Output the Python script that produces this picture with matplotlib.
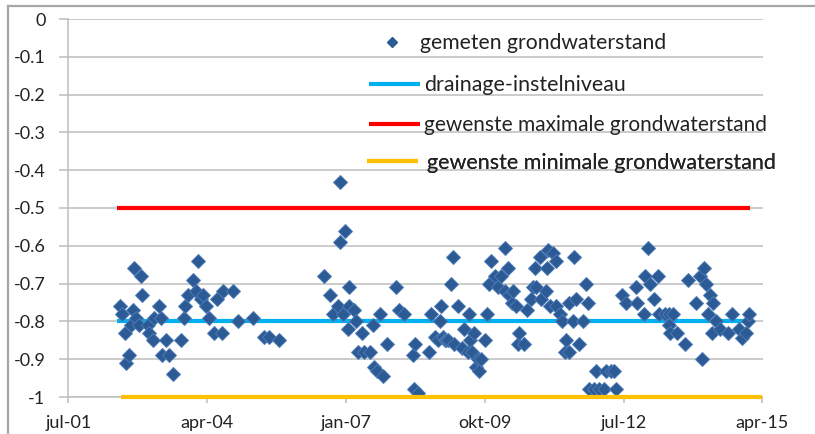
import numpy as np
import pandas as pd
import matplotlib
matplotlib.use("Agg")
import matplotlib.pyplot as plt
from matplotlib.lines import Line2D

plt.rcParams['font.family'] = ['Lato', 'DejaVu Sans']

# ---- data (measurement dates as decimal years, groundwater level in m) ----
meet_jaar = [
    2002.52, 2002.56, 2002.61, 2002.64, 2002.69, 2002.74, 2002.77, 2002.80, 2002.84, 2002.90,
    2002.94, 2002.96, 2003.07, 2003.10, 2003.17, 2003.20, 2003.30, 2003.33, 2003.36, 2003.43,
    2003.50, 2003.58, 2003.73, 2003.78, 2003.81, 2003.86, 2003.97, 2004.03, 2004.07, 2004.13,
    2004.16, 2004.22, 2004.28, 2004.38, 2004.45, 2004.54, 2004.57, 2004.75, 2004.85, 2005.15,
    2005.38, 2005.48, 2005.66,
    2006.57, 2006.68, 2006.73, 2006.83, 2006.87, 2006.88, 2006.93, 2006.97, 2007.03, 2007.06,
    2007.06, 2007.15, 2007.20, 2007.23, 2007.32, 2007.36, 2007.47, 2007.53, 2007.56, 2007.62,
    2007.67, 2007.74, 2007.80, 2007.98, 2008.04, 2008.15, 2008.32, 2008.35, 2008.37, 2008.42,
    2008.64, 2008.68, 2008.75, 2008.81, 2008.85, 2008.88, 2008.91, 2008.95, 2008.98, 2009.01,
    2009.08, 2009.11, 2009.14, 2009.21, 2009.30, 2009.34, 2009.41, 2009.43, 2009.45, 2009.50,
    2009.54, 2009.57, 2009.61, 2009.63, 2009.67, 2009.75, 2009.79, 2009.82, 2009.87, 2009.94,
    2010.00, 2010.07, 2010.14, 2010.14, 2010.20, 2010.23, 2010.29, 2010.31, 2010.37, 2010.40,
    2010.43, 2010.53, 2010.58, 2010.66, 2010.70, 2010.75, 2010.76, 2010.83, 2010.86, 2010.95,
    2010.97, 2010.99, 2011.03, 2011.09, 2011.15, 2011.16, 2011.24, 2011.28, 2011.34, 2011.36,
    2011.41, 2011.41, 2011.50, 2011.52, 2011.56, 2011.62, 2011.70, 2011.75, 2011.79, 2011.82,
    2011.90, 2011.95, 2012.00, 2012.10, 2012.15, 2012.25, 2012.31, 2012.35, 2012.47, 2012.55,
    2012.74, 2012.76, 2012.89, 2012.91, 2012.97, 2013.01, 2013.09, 2013.17, 2013.19, 2013.31,
    2013.39, 2013.39, 2013.42, 2013.48, 2013.55, 2013.72, 2013.77, 2013.92, 2014.01, 2014.05,
    2014.08, 2014.12, 2014.16, 2014.21, 2014.26, 2014.25, 2014.32, 2014.40, 2014.56, 2014.65,
    2014.78, 2014.84, 2014.92, 2014.96, 2014.98,
]
grondwaterstand = [
    -0.76, -0.78, -0.83, -0.91, -0.89, -0.81, -0.77, -0.66, -0.79, -0.81,
    -0.68, -0.73, -0.81, -0.83, -0.85, -0.79, -0.76, -0.79, -0.89, -0.85,
    -0.89, -0.94, -0.85, -0.79, -0.76, -0.73, -0.69, -0.72, -0.64, -0.74,
    -0.73, -0.76, -0.79, -0.83, -0.74, -0.83, -0.72, -0.72, -0.80, -0.79,
    -0.84, -0.84, -0.85,
    -0.68, -0.73, -0.78, -0.76, -0.43, -0.59, -0.78, -0.56, -0.82, -0.71,
    -0.76, -0.77, -0.80, -0.88, -0.83, -0.88, -0.88, -0.81, -0.92, -0.93,
    -0.78, -0.945, -0.86, -0.71, -0.77, -0.78, -0.89, -0.98, -0.86, -0.99,
    -0.88, -0.78, -0.84, -0.85, -0.80, -0.76, -0.84, -0.85, -0.85, -0.85,
    -0.70, -0.63, -0.86, -0.76, -0.87, -0.82, -0.88, -0.78, -0.85, -0.88,
    -0.83, -0.92, -0.90, -0.93, -0.90, -0.85, -0.78, -0.70, -0.64, -0.68,
    -0.71, -0.68, -0.605, -0.72, -0.66, -0.73, -0.75, -0.72, -0.76, -0.86,
    -0.83, -0.86, -0.77, -0.74, -0.71, -0.66, -0.71, -0.63, -0.74, -0.72,
    -0.66, -0.61, -0.76, -0.62, -0.64, -0.76, -0.78, -0.80, -0.88, -0.85,
    -0.88, -0.75, -0.80, -0.63, -0.74, -0.86, -0.80, -0.70, -0.75, -0.98,
    -0.98, -0.93, -0.98, -0.98, -0.93, -0.93, -0.93, -0.98, -0.73, -0.75,
    -0.71, -0.75, -0.78, -0.68, -0.605, -0.70, -0.74, -0.68, -0.78, -0.78,
    -0.78, -0.81, -0.83, -0.78, -0.83, -0.86, -0.69, -0.75, -0.68, -0.90,
    -0.66, -0.70, -0.78, -0.73, -0.75, -0.83, -0.80, -0.82, -0.83, -0.78,
    -0.82, -0.845, -0.83, -0.80, -0.78,
]

# reference levels (m) and the periods they are drawn over
drainage_niveau = -0.8
max_grondwaterstand = -0.5
min_grondwaterstand = -1.0
periode_ref = ["2002-06-20", "2014-12-28"]
periode_min = ["2002-07-20", "2015-04-01"]

# axis
x_ticks = ["2001-07-01", "2004-04-01", "2007-01-01", "2009-10-01", "2012-07-01", "2015-04-01"]
x_tick_labels = ["jul-01", "apr-04", "jan-07", "okt-09", "jul-12", "apr-15"]
y_ticks = [0, -0.1, -0.2, -0.3, -0.4, -0.5, -0.6, -0.7, -0.8, -0.9, -1]
y_tick_labels = ["0", "-0.1", "-0.2", "-0.3", "-0.4", "-0.5", "-0.6", "-0.7", "-0.8", "-0.9", "-1"]

labels = ["gemeten grondwaterstand", "drainage-instelniveau",
          "gewenste maximale grondwaterstand", "gewenste minimale grondwaterstand"]


def jaar_naar_datum(j):
    jr = int(np.floor(j))
    start = pd.Timestamp(year=jr, month=1, day=1)
    lengte = (pd.Timestamp(year=jr + 1, month=1, day=1) - start).days
    return start + pd.Timedelta(days=(j - jr) * lengte)


datums = [jaar_naar_datum(j) for j in meet_jaar]

# ---- figure ----
fig = plt.figure(figsize=(8.15, 4.34), dpi=100)
ax = fig.add_axes([68.3 / 815, 1 - 397 / 434, (762.5 - 68.3) / 815, (397 - 19) / 434])

grid_c = "#BDBDBD"
for yv in y_ticks:
    ax.axhline(yv, color=grid_c, lw=1.1, zorder=0)

blue_c = "#00B0F0"
red_c = "#FF0000"
yellow_c = "#FFC000"
pt_c = "#2B5A95"

ref_dates = pd.to_datetime(periode_ref)
min_dates = pd.to_datetime(periode_min)
l_blue, = ax.plot(ref_dates, [drainage_niveau] * 2, color=blue_c, lw=3.0, solid_capstyle='butt', zorder=2)
l_red, = ax.plot(ref_dates, [max_grondwaterstand] * 2, color=red_c, lw=3.0, solid_capstyle='butt', zorder=2)
l_yel, = ax.plot(min_dates, [min_grondwaterstand] * 2, color=yellow_c, lw=3.0, solid_capstyle='butt',
                 zorder=4, clip_on=False)
sc, = ax.plot(datums, grondwaterstand, linestyle='none', marker='D', ms=6.8,
              mfc=pt_c, mec="#4C7AB5", mew=0.7, zorder=3)

ax.set_ylim(-1, 0)
ax.set_xlim(pd.Timestamp(x_ticks[0]), pd.Timestamp(x_ticks[-1]))
ax.set_yticks(y_ticks)
ax.set_yticklabels(y_tick_labels)
ax.set_xticks(pd.to_datetime(x_ticks))
ax.set_xticklabels(x_tick_labels)

for s in ["top", "right"]:
    ax.spines[s].set_visible(False)
for s in ["left", "bottom"]:
    ax.spines[s].set_color(grid_c)
    ax.spines[s].set_linewidth(1.1)
ax.tick_params(axis='y', length=6.5, width=1.1, color=grid_c, pad=10, labelsize=13, labelcolor="#222222")
ax.tick_params(axis='x', length=4, width=1.1, color=grid_c, pad=9, labelsize=13, labelcolor="#222222")

# legend entries (placed individually as in the original)
specs = [
    (sc, labels[0], 380, 43, 1.25, 0.75, 15.2),
    (l_blue, labels[1], 369, 85, 2.6, 0.2, 15.4),
    (l_red, labels[2], 369, 125, 2.6, 0.2, 15.0),
    (l_yel, labels[3], 367, 163, 2.6, 0.45, 15.5),
]
for h, lab, px, py, hl, tp, fs in specs:
    handle = h
    if h is sc:
        handle = Line2D([], [], linestyle='none', marker='D', ms=5.5, mfc=pt_c, mec=pt_c)
    leg = ax.legend([handle], [lab], loc='center left',
                    bbox_to_anchor=(px / 815, 1 - py / 434), bbox_transform=fig.transFigure,
                    frameon=False, fontsize=fs, handlelength=hl * 14 / fs, handletextpad=tp,
                    borderpad=0, borderaxespad=0)
    for t in leg.get_texts():
        t.set_color("#222222")
    ax.add_artist(leg)

# chart border
border_c = "#A6A6A6"
fig.add_artist(Line2D([8 / 815, 1.0], [1 - 5.7 / 434] * 2, color=border_c, lw=1.6, transform=fig.transFigure))
fig.add_artist(Line2D([8 / 815] * 2, [0, 1 - 5.7 / 434], color=border_c, lw=1.6, transform=fig.transFigure))

fig.savefig("out.png", dpi=100)
